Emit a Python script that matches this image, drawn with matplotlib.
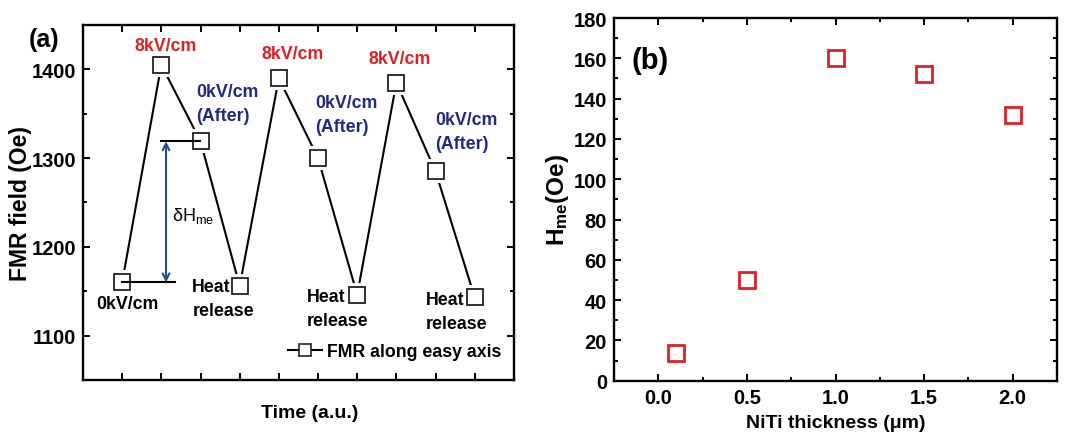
import matplotlib
matplotlib.use("Agg")
import matplotlib.pyplot as plt
from matplotlib.ticker import MultipleLocator, NullFormatter, FormatStrFormatter

plt.rcParams['font.family'] = ['Liberation Sans', 'DejaVu Sans']
plt.rcParams['font.weight'] = 'bold'
plt.rcParams['mathtext.fontset'] = 'custom'
plt.rcParams['mathtext.rm'] = 'Liberation Sans'
plt.rcParams['mathtext.bf'] = 'Liberation Sans:bold'
plt.rcParams['mathtext.it'] = 'Liberation Sans:italic'

# ---- data panel (a)
time_idx = [1, 2, 3, 4, 5, 6, 7, 8, 9, 10]
fmr_field = [1160, 1405, 1319, 1156, 1390, 1300, 1146, 1385, 1285, 1143]
state_labels = ["0kV/cm", "8kV/cm", "0kV/cm\n(After)", "Heat\nrelease",
                "8kV/cm", "0kV/cm\n(After)", "Heat\nrelease",
                "8kV/cm", "0kV/cm\n(After)", "Heat\nrelease"]

# ---- data panel (b)
niti_thickness = [0.1, 0.5, 1.0, 1.5, 2.0]
h_me = [14, 50, 160, 152, 132]

RED = '#e31e24'
NAVY = '#1f2a80'
ARROW = '#1f4e8c'

fig = plt.figure(figsize=(10.72, 4.39), dpi=100)
axa = fig.add_axes([0.0774, 0.1321, 0.402, 0.8087])
axb = fig.add_axes([0.5728, 0.1305, 0.4132, 0.8262])

for ax in (axa, axb):
    for s in ax.spines.values():
        s.set_linewidth(1.7)
    ax.tick_params(which='both', direction='in', top=True, right=True,
                   width=1.4, labelsize=14.5, pad=5)
    ax.tick_params(which='major', length=5)
    ax.tick_params(which='minor', length=3)

# ---- panel (a)
axa.set_xlim(0, 11)
axa.set_ylim(1050, 1450)
axa.xaxis.set_major_locator(MultipleLocator(1))
axa.xaxis.set_major_formatter(NullFormatter())
axa.set_yticks([1100, 1200, 1300, 1400])
axa.yaxis.set_minor_locator(MultipleLocator(50))

axa.plot(time_idx, fmr_field, color='black', lw=1.5, zorder=2)
# white halo to create gaps like Origin
axa.plot(time_idx, fmr_field, ls='none', marker='s', ms=17, mfc='white',
         mec='white', mew=0, zorder=3)
axa.plot(time_idx, fmr_field, ls='none', marker='s', ms=11, mfc='none',
         mec='#222222', mew=1.3, zorder=4)

# legend handle
legline, = axa.plot([], [], color='black', lw=1.5, marker='s', ms=8,
                    mfc='white', mec='#222222', mew=1.2,
                    label='FMR along easy axis')
axa.legend(handles=[legline], loc='lower right', frameon=False,
           fontsize=12.8, handlelength=1.9, handletextpad=0.3,
           borderaxespad=0.3, bbox_to_anchor=(1.0, 0.02))

# annotations
ann_pos = [(1.14, 1136, 'center', 'black'),
           (2.12, 1427, 'center', RED),
           (2.89, 1362, 'left', NAVY),
           (2.79, 1142, 'left', 'black'),
           (5.36, 1418, 'center', RED),
           (5.92, 1349, 'left', NAVY),
           (5.72, 1131, 'left', 'black'),
           (8.09, 1412, 'center', RED),
           (8.99, 1330, 'left', NAVY),
           (8.76, 1127, 'left', 'black')]
for lab, (x, y, ha, c) in zip(state_labels, ann_pos):
    axa.text(x, y, lab, ha=ha, va='center', color=c, fontsize=12.8,
             fontweight='bold', linespacing=1.55)

# delta H_me construction
axa.plot([1.0, 2.34], [fmr_field[0]] * 2, color='black', lw=1.5, zorder=5)
axa.plot([2.0, 2.98], [fmr_field[2]] * 2, color='black', lw=1.5, zorder=5)
axa.annotate('', xy=(2.12, fmr_field[0]), xytext=(2.12, fmr_field[2]),
             arrowprops=dict(arrowstyle='<->', color=ARROW, lw=1.5,
                             shrinkA=0, shrinkB=0, mutation_scale=12))
axa.text(2.26, 1236, r'$\mathregular{\delta H_{me}}$', fontsize=13,
         fontweight='normal', va='center', ha='left')

axa.set_ylabel('FMR field (Oe)', fontsize=16.5, fontweight='bold')
axa.set_xlabel('Time (a.u.)', fontsize=14, fontweight='bold')
axa.yaxis.set_label_coords(-0.118, 0.5)
axa.xaxis.set_label_coords(0.527, -0.068)
fig.text(0.027, 0.91, '(a)', fontsize=18, fontweight='bold', va='center')

# ---- panel (b)
axb.set_xlim(-0.25, 2.25)
axb.set_ylim(0, 180)
axb.xaxis.set_major_locator(MultipleLocator(0.5))
axb.xaxis.set_minor_locator(MultipleLocator(0.25))
axb.yaxis.set_major_locator(MultipleLocator(20))
axb.yaxis.set_minor_locator(MultipleLocator(10))
axb.xaxis.set_major_formatter(FormatStrFormatter('%.1f'))
axb.plot(niti_thickness, h_me, ls='none', marker='s', ms=11, mfc='none',
         mec=RED, mew=2.0)
axb.set_ylabel(r'$\mathbf{H_{me}}$(Oe)', fontsize=17.5, fontweight='bold')
axb.set_xlabel('NiTi thickness (μm)', fontsize=14, fontweight='bold')
axb.yaxis.set_label_coords(-0.097, 0.5)
axb.xaxis.set_label_coords(0.5, -0.093)
axb.text(0.04, 0.885, '(b)', transform=axb.transAxes, fontsize=21,
         fontweight='bold', va='center')

fig.savefig('out.png', dpi=100)
